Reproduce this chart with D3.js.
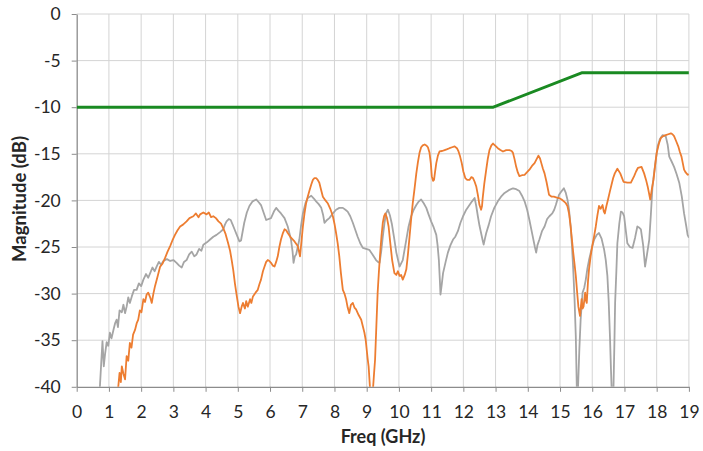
<!DOCTYPE html>
<html>
<head>
<meta charset="utf-8">
<script src="https://cdn.jsdelivr.net/npm/d3@7"></script>
<style>
  html, body { margin: 0; padding: 0; background: #fff; }
  svg { display: block; font-family: Lato, "Open Sans", sans-serif; }
</style>
</head>
<body>
<svg id="chart" width="703" height="451"></svg>
<script>
// ---- data ----
const xTicks = [0,1,2,3,4,5,6,7,8,9,10,11,12,13,14,15,16,17,18,19];
const yTicks = [0,-5,-10,-15,-20,-25,-30,-35,-40];
const xTitle = "Freq (GHz)";
const yTitle = "Magnitude (dB)";

const limitSeries = [[0,-10],[12.93,-10],[15.69,-6.3],[19,-6.3]];

const graySeries = [[0.70,-41],[0.72,-40],[0.76,-37.5],[0.80,-35.1],[0.84,-37.8],[0.88,-36.5],[0.93,-35.2],[0.98,-35.6],[1.03,-34.2],[1.08,-34.8],[1.14,-33.9],[1.19,-33.2],[1.24,-32.8],[1.28,-33.6],[1.33,-31.8],[1.40,-32.0],[1.45,-31.2],[1.50,-32.1],[1.55,-31.4],[1.60,-30.4],[1.65,-31],[1.71,-30.3],[1.78,-29.6],[1.86,-29.6],[1.93,-28.9],[2.0,-29.2],[2.07,-28.5],[2.15,-27.9],[2.22,-28.3],[2.28,-27.8],[2.35,-27.2],[2.42,-27.6],[2.48,-27.1],[2.55,-26.6],[2.62,-26.9],[2.69,-26.5],[2.8,-26.3],[2.9,-26.5],[3.0,-26.4],[3.1,-26.7],[3.18,-27.0],[3.26,-27.2],[3.33,-26.6],[3.41,-26.4],[3.49,-25.8],[3.57,-25.5],[3.65,-26.0],[3.72,-25.8],[3.8,-25.2],[3.87,-25.4],[3.93,-24.75],[4.04,-24.5],[4.14,-24.2],[4.24,-23.9],[4.34,-23.7],[4.45,-23.4],[4.55,-23.1],[4.60,-22.6],[4.65,-22.25],[4.72,-22.0],[4.78,-22.1],[4.84,-22.6],[4.91,-23.2],[4.98,-23.8],[5.05,-24.4],[5.1,-24.3],[5.2,-22.4],[5.28,-21.3],[5.36,-20.6],[5.46,-20.1],[5.57,-19.9],[5.65,-20.2],[5.72,-20.5],[5.8,-21.3],[5.88,-22.1],[6.03,-21.9],[6.12,-21.2],[6.19,-20.8],[6.26,-21.1],[6.34,-21.4],[6.45,-21.9],[6.55,-22.8],[6.65,-24.2],[6.70,-25.5],[6.73,-26.7],[6.77,-26.0],[6.81,-25.8],[6.86,-25.0],[6.91,-24.2],[6.96,-22.8],[7.02,-21.4],[7.1,-20.3],[7.17,-19.75],[7.28,-19.5],[7.36,-19.8],[7.43,-20.1],[7.51,-20.4],[7.59,-20.8],[7.65,-21.6],[7.69,-22.4],[7.77,-22.1],[7.84,-21.9],[7.95,-21.4],[8.05,-21.0],[8.15,-20.8],[8.26,-20.8],[8.34,-21.0],[8.41,-21.2],[8.49,-21.7],[8.57,-22.4],[8.65,-23.2],[8.72,-23.9],[8.80,-24.6],[8.88,-25.1],[8.98,-25.2],[9.08,-25.3],[9.18,-25.8],[9.29,-26.4],[9.35,-26.6],[9.4,-26.7],[9.45,-25.5],[9.5,-23.9],[9.55,-22.5],[9.6,-21.4],[9.66,-21.0],[9.72,-21.6],[9.78,-22.5],[9.85,-24.0],[9.92,-25.6],[10.02,-27.1],[10.12,-26.4],[10.23,-24.2],[10.3,-22.8],[10.38,-21.7],[10.46,-21.0],[10.54,-20.5],[10.62,-20.1],[10.69,-19.9],[10.77,-20.3],[10.85,-20.8],[10.92,-21.5],[11.0,-22.25],[11.08,-22.9],[11.16,-23.7],[11.20,-24.8],[11.24,-26.4],[11.27,-28.5],[11.29,-30.1],[11.33,-29.0],[11.37,-27.8],[11.45,-26.6],[11.52,-25.6],[11.6,-24.8],[11.68,-24.2],[11.75,-23.9],[11.83,-23.3],[11.91,-22.4],[11.99,-21.7],[12.09,-21.0],[12.19,-20.5],[12.27,-20.1],[12.35,-19.75],[12.40,-20.6],[12.45,-21.7],[12.5,-22.7],[12.55,-23.5],[12.6,-24.3],[12.63,-24.75],[12.67,-24.1],[12.71,-23.5],[12.79,-22.6],[12.86,-21.7],[12.96,-20.8],[13.07,-20.1],[13.17,-19.6],[13.28,-19.2],[13.41,-18.9],[13.54,-18.7],[13.64,-18.8],[13.74,-19.0],[13.82,-19.5],[13.9,-20.1],[13.98,-21.0],[14.05,-22.1],[14.15,-23.8],[14.22,-25.0],[14.26,-25.6],[14.30,-24.8],[14.36,-24.2],[14.44,-23.3],[14.52,-22.8],[14.6,-22.0],[14.67,-21.7],[14.76,-21.4],[14.82,-21.0],[14.87,-20.5],[14.92,-19.9],[14.97,-19.4],[15.05,-19.0],[15.12,-18.7],[15.18,-19.2],[15.23,-19.9],[15.28,-21.0],[15.33,-22.8],[15.37,-24.8],[15.41,-27.4],[15.45,-30.5],[15.49,-34.6],[15.52,-40],[15.54,-42],[15.56,-40],[15.6,-36],[15.64,-32.8],[15.7,-29.9],[15.75,-29.4],[15.8,-28.5],[15.85,-27.3],[15.9,-26.4],[15.98,-25.2],[16.06,-24.2],[16.14,-23.7],[16.21,-23.5],[16.29,-24.1],[16.37,-25.3],[16.42,-26.4],[16.47,-28.1],[16.51,-30.8],[16.55,-34.6],[16.58,-38],[16.6,-40],[16.63,-42],[16.66,-40],[16.69,-35],[16.71,-31],[16.75,-27.5],[16.78,-24.6],[16.84,-22.5],[16.89,-21.2],[16.94,-21.3],[16.99,-21.7],[17.04,-23.2],[17.09,-24.6],[17.17,-25.0],[17.25,-25.1],[17.33,-24.0],[17.4,-22.8],[17.45,-22.9],[17.51,-23.1],[17.58,-24.8],[17.64,-27.1],[17.7,-25.8],[17.77,-24.2],[17.82,-21.5],[17.87,-18.5],[17.95,-16.2],[18.03,-14.2],[18.1,-13.4],[18.18,-13.0],[18.28,-13.1],[18.34,-14.0],[18.39,-15.3],[18.46,-15.8],[18.54,-16.4],[18.62,-17.2],[18.7,-18.1],[18.78,-19.6],[18.85,-21.4],[18.92,-22.8],[18.96,-23.7],[19.0,-24.0]];

const orangeSeries = [[1.27,-41],[1.29,-40],[1.33,-38.5],[1.37,-39.5],[1.4,-37.8],[1.45,-38.6],[1.5,-39.2],[1.55,-36.7],[1.6,-37.2],[1.65,-35.3],[1.7,-35.8],[1.75,-34.4],[1.81,-33.9],[1.86,-33.2],[1.91,-32.8],[1.96,-31.8],[2.01,-32.0],[2.07,-30.6],[2.12,-30.9],[2.17,-30.1],[2.22,-29.9],[2.28,-30.4],[2.33,-31.0],[2.38,-30.0],[2.43,-29.2],[2.5,-28.3],[2.59,-27.1],[2.66,-26.8],[2.74,-26.2],[2.82,-25.5],[2.9,-24.9],[2.97,-24.3],[3.05,-23.7],[3.13,-23.2],[3.21,-22.8],[3.3,-22.6],[3.41,-22.25],[3.5,-21.9],[3.62,-21.7],[3.7,-21.4],[3.78,-21.8],[3.83,-21.5],[3.93,-21.3],[4.03,-21.5],[4.1,-21.3],[4.17,-21.8],[4.24,-21.7],[4.32,-21.9],[4.4,-22.25],[4.48,-22.5],[4.55,-23.0],[4.62,-23.6],[4.7,-24.6],[4.76,-25.4],[4.81,-26.4],[4.86,-27.5],[4.91,-28.9],[4.97,-30.3],[5.02,-31.4],[5.07,-32.1],[5.12,-31.4],[5.16,-31.0],[5.22,-31.6],[5.26,-30.8],[5.31,-31.4],[5.38,-30.6],[5.42,-31.0],[5.47,-30.3],[5.55,-29.9],[5.62,-29.6],[5.67,-29.0],[5.72,-28.5],[5.78,-27.6],[5.83,-27.1],[5.88,-26.6],[5.93,-26.4],[5.98,-26.5],[6.03,-26.7],[6.09,-27.0],[6.14,-27.1],[6.19,-26.6],[6.24,-26.0],[6.29,-25.0],[6.34,-24.2],[6.4,-23.5],[6.45,-23.1],[6.5,-23.2],[6.55,-23.5],[6.65,-24.0],[6.76,-24.4],[6.86,-24.9],[6.9,-25.5],[6.93,-26.0],[6.97,-24.6],[7.02,-22.8],[7.07,-21.4],[7.12,-20.3],[7.17,-19.6],[7.22,-19.0],[7.28,-18.3],[7.33,-17.8],[7.38,-17.6],[7.43,-17.6],[7.48,-17.8],[7.53,-18.1],[7.58,-18.8],[7.64,-19.6],[7.72,-20.0],[7.79,-20.3],[7.87,-20.9],[7.95,-21.7],[8.0,-22.5],[8.05,-23.5],[8.1,-24.6],[8.15,-26.0],[8.2,-27.8],[8.26,-29.6],[8.31,-30.0],[8.36,-30.6],[8.41,-31.5],[8.46,-32.1],[8.51,-31.2],[8.57,-31.0],[8.62,-31.5],[8.67,-31.7],[8.75,-32.3],[8.83,-32.8],[8.88,-33.5],[8.93,-34.2],[8.97,-35.0],[9.0,-36.0],[9.03,-37.0],[9.06,-37.8],[9.1,-40],[9.13,-42],[9.18,-42],[9.2,-40],[9.23,-38.5],[9.26,-37.1],[9.3,-33.5],[9.34,-29.9],[9.38,-27.6],[9.42,-25.6],[9.46,-23.8],[9.5,-22.4],[9.54,-21.7],[9.58,-21.4],[9.63,-21.9],[9.68,-22.8],[9.73,-24.5],[9.79,-26.4],[9.86,-27.8],[9.92,-28.0],[9.97,-27.6],[10.02,-28.1],[10.07,-28.0],[10.12,-28.5],[10.18,-28.0],[10.23,-27.4],[10.28,-25.8],[10.33,-23.9],[10.38,-22.0],[10.43,-20.3],[10.49,-18.6],[10.54,-17.1],[10.59,-15.9],[10.64,-14.9],[10.69,-14.3],[10.74,-14.1],[10.8,-14.0],[10.85,-14.1],[10.9,-14.3],[10.95,-14.9],[10.99,-16.0],[11.02,-17.4],[11.06,-17.9],[11.09,-17.8],[11.12,-17.0],[11.16,-16.0],[11.21,-15.2],[11.26,-14.75],[11.34,-14.7],[11.42,-14.6],[11.5,-14.5],[11.57,-14.4],[11.65,-14.3],[11.73,-14.2],[11.8,-14.4],[11.85,-14.75],[11.9,-15.3],[11.95,-16.0],[12.0,-16.9],[12.06,-17.6],[12.12,-17.8],[12.19,-17.8],[12.25,-17.5],[12.3,-17.6],[12.35,-18.0],[12.4,-18.5],[12.45,-19.4],[12.5,-20.5],[12.55,-21.0],[12.58,-20.6],[12.6,-19.75],[12.65,-18.2],[12.71,-16.7],[12.76,-15.5],[12.81,-14.6],[12.87,-14.1],[12.92,-13.9],[12.98,-14.1],[13.07,-14.4],[13.15,-14.6],[13.23,-14.75],[13.33,-14.6],[13.43,-14.6],[13.5,-14.7],[13.54,-14.9],[13.59,-15.6],[13.64,-16.4],[13.69,-17.0],[13.74,-17.4],[13.82,-17.3],[13.9,-17.25],[13.97,-17.0],[14.05,-16.7],[14.13,-16.3],[14.21,-16.0],[14.27,-15.6],[14.33,-15.2],[14.38,-15.5],[14.42,-16.0],[14.47,-16.6],[14.52,-17.1],[14.58,-18.0],[14.66,-19.4],[14.74,-19.6],[14.81,-19.6],[14.9,-19.7],[14.97,-19.75],[15.05,-19.9],[15.12,-20.1],[15.18,-20.3],[15.23,-20.6],[15.28,-21.4],[15.33,-22.8],[15.37,-24.2],[15.41,-25.6],[15.45,-26.8],[15.49,-28.1],[15.53,-29.8],[15.57,-31.4],[15.62,-32.4],[15.67,-30.6],[15.7,-31.6],[15.73,-31.4],[15.78,-29.9],[15.81,-30.8],[15.83,-31.0],[15.87,-28.6],[15.9,-27.4],[15.95,-26.0],[16.0,-24.9],[16.06,-23.8],[16.11,-22.8],[16.16,-21.6],[16.21,-20.6],[16.26,-20.9],[16.32,-20.5],[16.36,-21.2],[16.39,-21.4],[16.44,-20.6],[16.49,-19.9],[16.55,-19.0],[16.6,-18.3],[16.65,-17.6],[16.7,-17.1],[16.78,-16.6],[16.87,-17.1],[16.97,-18.0],[17.09,-18.1],[17.2,-18.1],[17.3,-17.4],[17.36,-16.9],[17.42,-16.5],[17.53,-16.4],[17.61,-17.1],[17.67,-17.8],[17.72,-18.5],[17.76,-19.2],[17.8,-19.9],[17.85,-18.8],[17.9,-17.8],[17.95,-16.3],[18.0,-14.9],[18.07,-13.9],[18.13,-13.3],[18.2,-13.1],[18.28,-13.0],[18.36,-12.9],[18.44,-12.8],[18.49,-12.9],[18.54,-13.1],[18.6,-13.6],[18.67,-14.2],[18.72,-14.8],[18.77,-15.3],[18.81,-16.0],[18.85,-16.7],[18.9,-17.0],[18.96,-17.25],[19.0,-17.2]];

// ---- chart ----
(function () {
const svg = d3.select("#chart");
const mLeft = 76.7, mRight = 688.9, mTop = 14, mBottom = 386.8;
const fontFam = 'Lato, "Open Sans", sans-serif';

const x = d3.scaleLinear().domain([0, 19]).range([mLeft, mRight]);
const y = d3.scaleLinear().domain([-40, 0]).range([mBottom, mTop]);

svg.append("defs").append("clipPath").attr("id", "plotClip")
  .append("rect").attr("x", mLeft).attr("y", mTop - 2)
  .attr("width", mRight - mLeft).attr("height", mBottom - mTop + 2);

// gridlines
const grid = svg.append("g").attr("class", "grid");
grid.selectAll("line.v").data(xTicks.filter(d => d > 0)).join("line")
  .attr("class", "v")
  .attr("x1", d => x(d)).attr("x2", d => x(d))
  .attr("y1", mTop).attr("y2", mBottom)
  .attr("stroke", "#d4d4d4").attr("stroke-width", 1);
grid.selectAll("line.h").data(yTicks.filter(d => d > -40)).join("line")
  .attr("class", "h")
  .attr("x1", mLeft).attr("x2", mRight)
  .attr("y1", d => y(d)).attr("y2", d => y(d))
  .attr("stroke", "#d4d4d4").attr("stroke-width", 1);

// axes
const xAxis = svg.append("g")
  .attr("transform", `translate(0,${mBottom})`)
  .call(d3.axisBottom(x).tickValues(xTicks).tickSize(5).tickSizeOuter(0).tickPadding(14));
const yAxis = svg.append("g")
  .attr("transform", `translate(${mLeft},0)`)
  .call(d3.axisLeft(y).tickValues(yTicks).tickSize(5).tickSizeOuter(0).tickPadding(11)
    .tickFormat(d => d === 0 ? "0" : String(d)));

[xAxis, yAxis].forEach(g => {
  g.select(".domain").attr("stroke", "#8c8c8c").attr("stroke-width", 1.3);
  g.selectAll(".tick line").attr("stroke", "#8c8c8c");
  g.selectAll(".tick text")
    .attr("fill", "#262626")
    .style("font-size", "17.5px")
    .style("font-family", fontFam);
});

// lines
const line = d3.line().x(d => x(d[0])).y(d => y(d[1]));
const plot = svg.append("g").attr("clip-path", "url(#plotClip)");

plot.append("path").datum(graySeries)
  .attr("d", line).attr("fill", "none")
  .attr("stroke", "#a5a5a5").attr("stroke-width", 1.8).attr("stroke-linejoin", "round");
plot.append("path").datum(orangeSeries)
  .attr("d", line).attr("fill", "none")
  .attr("stroke", "#ed7d31").attr("stroke-width", 1.8).attr("stroke-linejoin", "round");
plot.append("path").datum(limitSeries)
  .attr("d", line).attr("fill", "none")
  .attr("stroke", "#1a8a22").attr("stroke-width", 3).attr("stroke-linejoin", "round");

// titles
svg.append("text")
  .attr("x", 383).attr("y", 443)
  .attr("text-anchor", "middle")
  .attr("fill", "#262626")
  .style("font-family", fontFam)
  .style("font-size", "18px").style("font-weight", "bold")
  .text(xTitle);
svg.append("text")
  .attr("transform", `translate(26,199) rotate(-90)`)
  .attr("text-anchor", "middle")
  .attr("fill", "#262626")
  .style("font-family", fontFam)
  .style("font-size", "18.5px").style("font-weight", "bold")
  .text(yTitle);
})();
</script>
</body>
</html>
